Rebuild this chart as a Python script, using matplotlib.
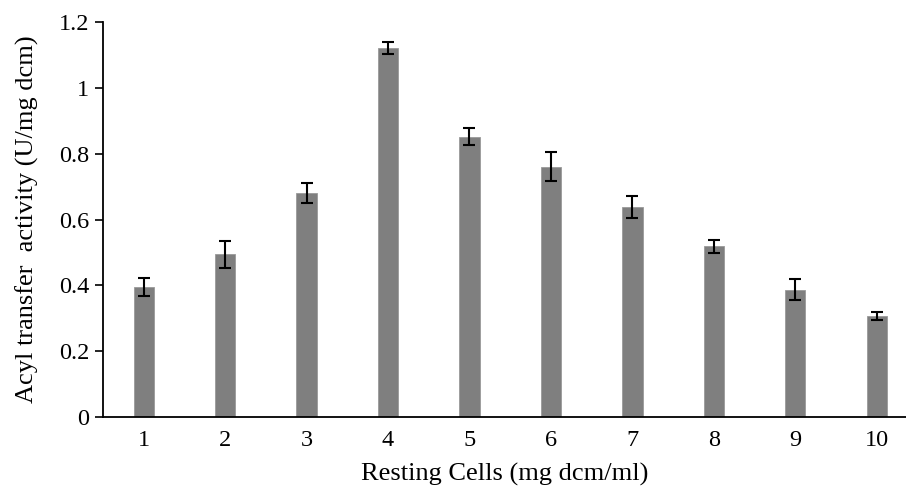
import matplotlib
matplotlib.use("Agg")
import matplotlib.pyplot as plt

# values
cells = [1, 2, 3, 4, 5, 6, 7, 8, 9, 10]
activity = [0.395, 0.494, 0.68, 1.12, 0.852, 0.761, 0.638, 0.518, 0.386, 0.306]
errors = [0.026, 0.04, 0.03, 0.018, 0.027, 0.043, 0.033, 0.02, 0.032, 0.012]
yticks = [0, 0.2, 0.4, 0.6, 0.8, 1, 1.2]
ytick_labels = ["0", "0.2", "0.4", "0.6", "0.8", "1", "1.2"]

plt.rcParams['font.family'] = ['Liberation Serif', 'DejaVu Serif']

fig = plt.figure(figsize=(9.06, 4.88), dpi=100)
ax = fig.add_axes([103 / 906, 71 / 488, 1 - 103 / 906, 395 / 488])

ax.bar(cells, activity, width=0.25, color='#7f7f7f', edgecolor='#9a9a9a', linewidth=0.6,
       yerr=errors, error_kw=dict(ecolor='black', elinewidth=1.5, capsize=4, capthick=1.5))

ax.set_xlim(0.5, 10.36)
ax.set_ylim(0, 1.2)
ax.set_xticks(cells)
ax.set_xticklabels([str(c) for c in cells], fontsize=17.5)
ax.set_yticks(yticks)
ax.set_yticklabels(ytick_labels, fontsize=17.5)
ax.tick_params(axis='x', length=0, pad=9)
ax.tick_params(axis='y', length=6, width=1.2, direction='out', pad=4)

for side in ['top', 'right']:
    ax.spines[side].set_visible(False)
ax.spines['left'].set_linewidth(1.3)
ax.spines['bottom'].set_linewidth(1.3)

ax.set_xlabel("Resting Cells (mg dcm/ml)", fontsize=19, labelpad=9)
ax.set_ylabel("Acyl transfer  activity (U/mg dcm)", fontsize=19, labelpad=14)

fig.savefig("out.png", dpi=100)
